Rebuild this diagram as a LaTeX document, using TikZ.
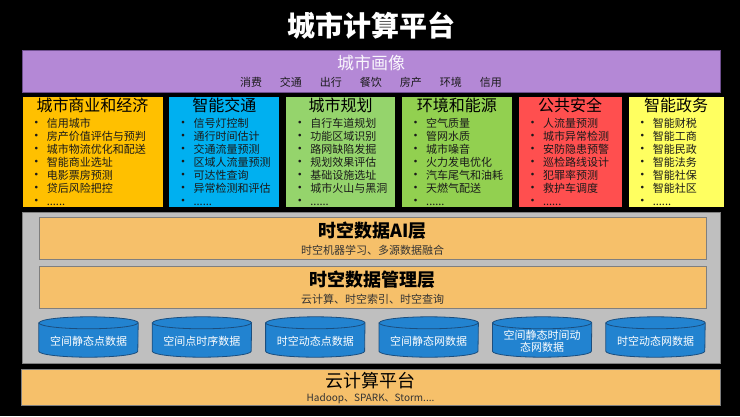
\documentclass[tikz,border=0pt]{standalone}
\usepackage{fontspec}
\setmainfont{Noto Sans CJK SC}
\usetikzlibrary{positioning,calc}
\definecolor{Portrait}{HTML}{B488D6}
\definecolor{PortraitLine}{HTML}{6E4E8E}
\definecolor{Business}{HTML}{FFC000}
\definecolor{Traffic}{HTML}{00B0F0}
\definecolor{Planning}{HTML}{95D46C}
\definecolor{Energy}{HTML}{92D050}
\definecolor{Safety}{HTML}{FF4F4F}
\definecolor{Gov}{HTML}{FFFF60}
\definecolor{Panel}{HTML}{BFBFBF}
\definecolor{PanelLine}{HTML}{808080}
\definecolor{Layer}{HTML}{F6C06A}
\definecolor{LayerLine}{HTML}{7F7F7F}
\definecolor{Store}{HTML}{2283D0}
\definecolor{StoreLine}{HTML}{1B4E7E}
\definecolor{Ink}{HTML}{1A1A1A}
\definecolor{SubInk}{HTML}{333333}
\newcommand{\appitem}[1]{\makebox[17pt][l]{\fontsize{13}{13}\selectfont •}#1}
\newcommand{\drawstore}[1]{%
  \filldraw[storecyl] ([yshift=-6pt]#1.north west) -- ([yshift=6pt]#1.south west)
    arc[start angle=180,end angle=360,x radius=49.5pt,y radius=6pt]
    -- ([yshift=-6pt]#1.north east)
    arc[start angle=0,end angle=180,x radius=49.5pt,y radius=6pt] -- cycle;
  \draw[storecyl] ([yshift=-6pt]#1.north west)
    arc[start angle=180,end angle=360,x radius=49.5pt,y radius=6pt];}

\begin{document}
\begin{tikzpicture}[x=1pt,y=-1pt,
  node distance=5pt,
  appbox/.style={draw=black,line width=0.8pt,minimum height=111pt,inner sep=0pt},
  apptitle/.style={font=\fontsize{16}{18}\selectfont,inner sep=0pt},
  applist/.style={anchor=north west,align=left,inner sep=0pt,font=\fontsize{11}{13}\selectfont,text=Ink},
  layer/.style={draw=LayerLine,fill=Layer,minimum width=667pt,minimum height=42pt,inner sep=0pt},
  headline/.style={font=\bfseries\fontsize{18}{20}\selectfont,inner sep=0pt},
  subline/.style={font=\fontsize{11}{13}\selectfont,text=SubInk,inner sep=0pt},
  store/.style={minimum width=99pt,minimum height=40pt,inner sep=0pt},
  storecyl/.style={draw=StoreLine,fill=Store,line width=0.8pt},
  storelabel/.style={text=white,align=center,font=\fontsize{11}{12}\selectfont,inner sep=0pt}
]
\fill[black] (0,0) rectangle (740,416);

% title
\node[font=\bfseries\fontsize{28}{30}\selectfont,text=white,inner sep=0pt] (title) at (371,26) {城市计算平台};

% city portrait
\node[draw=PortraitLine,fill=Portrait,minimum width=698pt,minimum height=42pt,inner sep=0pt] (portrait) at (371,71) {};
\node[font=\fontsize{17}{19}\selectfont,text=white!92!Portrait,inner sep=0pt] (portraittitle) at (371,63) {城市画像};
\node[subline,text=Ink] (portraitsub) at (371,82) {消费\hspace{18pt}交通\hspace{18pt}出行\hspace{18pt}餐饮\hspace{18pt}房产\hspace{18pt}环境\hspace{18pt}信用};

% application boxes
\node[appbox,fill=Business,minimum width=141pt] (biz) at (92.5,151.5) {};
\node[appbox,fill=Traffic,minimum width=111pt,right=of biz] (traffic) {};
\node[appbox,fill=Planning,minimum width=110pt,right=of traffic] (plan) {};
\node[appbox,fill=Energy,minimum width=111pt,right=of plan] (energy) {};
\node[appbox,fill=Safety,minimum width=104pt,right=of energy] (safety) {};
\node[appbox,fill=Gov,minimum width=96pt,right=of safety] (gov) {};

\node[apptitle] (biztitle) at ([yshift=-9.5pt]biz.north) {城市商业和经济};
\node[apptitle] (traffictitle) at ([yshift=-9.5pt]traffic.north) {智能交通};
\node[apptitle] (plantitle) at ([yshift=-9.5pt]plan.north) {城市规划};
\node[apptitle] (energytitle) at ([yshift=-9.5pt]energy.north) {环境和能源};
\node[apptitle] (safetytitle) at ([yshift=-9.5pt]safety.north) {公共安全};
\node[apptitle] (govtitle) at ([yshift=-9.5pt]gov.north) {智能政务};

\node[applist] (bizlist) at ([xshift=8pt,yshift=-22.5pt]biz.north west)
  {\appitem{信用城市}\\\appitem{房产价值评估与预判}\\\appitem{城市物流优化和配送}\\\appitem{智能商业选址}\\\appitem{电影票房预测}\\\appitem{贷后风险把控}\\\appitem{......}};
\node[applist] (trafficlist) at ([xshift=8pt,yshift=-22.5pt]traffic.north west)
  {\appitem{信号灯控制}\\\appitem{通行时间估计}\\\appitem{交通流量预测}\\\appitem{区域人流量预测}\\\appitem{可达性查询}\\\appitem{异常检测和评估}\\\appitem{......}};
\node[applist] (planlist) at ([xshift=8pt,yshift=-22.5pt]plan.north west)
  {\appitem{自行车道规划}\\\appitem{功能区域识别}\\\appitem{路网缺陷发掘}\\\appitem{规划效果评估}\\\appitem{基础设施选址}\\\appitem{城市火山与黑洞}\\\appitem{......}};
\node[applist] (energylist) at ([xshift=8pt,yshift=-22.5pt]energy.north west)
  {\appitem{空气质量}\\\appitem{管网水质}\\\appitem{城市噪音}\\\appitem{火力发电优化}\\\appitem{汽车尾气和油耗}\\\appitem{天燃气配送}\\\appitem{......}};
\node[applist] (safetylist) at ([xshift=8pt,yshift=-22.5pt]safety.north west)
  {\appitem{人流量预测}\\\appitem{城市异常检测}\\\appitem{安防隐患预警}\\\appitem{巡检路线设计}\\\appitem{犯罪率预测}\\\appitem{救护车调度}\\\appitem{......}};
\node[applist] (govlist) at ([xshift=8pt,yshift=-22.5pt]gov.north west)
  {\appitem{智能财税}\\\appitem{智能工商}\\\appitem{智能民政}\\\appitem{智能法务}\\\appitem{智能社保}\\\appitem{智能社区}\\\appitem{......}};

% data core
\node[draw=PanelLine,fill=Panel,minimum width=698pt,minimum height=151pt,inner sep=0pt] (core) at (371,287.5) {};
\node[layer] (ai) at (372.5,238) {};
\node[headline] (aititle) at (372.5,231) {时空数据AI层};
\node[subline] (aisub) at (372.5,250) {时空机器学习、多源数据融合};
\node[layer] (manage) at (372.5,287) {};
\node[headline] (managetitle) at (372.5,280) {时空数据管理层};
\node[subline] (managesub) at (372.5,299) {云计算、时空索引、时空查询};

% data stores
\node[store] (s1) at (88.5,337) {};
\node[store,right=14pt of s1] (s2) {};
\node[store,right=14pt of s2] (s3) {};
\node[store,right=14pt of s3] (s4) {};
\node[store,right=14pt of s4] (s5) {};
\node[store,right=14pt of s5] (s6) {};
\drawstore{s1}
\drawstore{s2}
\drawstore{s3}
\drawstore{s4}
\drawstore{s5}
\drawstore{s6}
\node[storelabel] (s1label) at ([yshift=-4pt]s1.center) {空间静态点数据};
\node[storelabel] (s2label) at ([yshift=-4pt]s2.center) {空间点时序数据};
\node[storelabel] (s3label) at ([yshift=-4pt]s3.center) {时空动态点数据};
\node[storelabel] (s4label) at ([yshift=-4pt]s4.center) {空间静态网数据};
\node[storelabel] (s5label) at ([yshift=-4pt]s5.center) {空间静态时间动\\态网数据};
\node[storelabel] (s6label) at ([yshift=-4pt]s6.center) {时空动态网数据};

% cloud
\node[draw=LayerLine,fill=Layer,minimum width=699pt,minimum height=36pt,inner sep=0pt] (cloud) at (370.5,387) {};
\node[font=\fontsize{18}{20}\selectfont,inner sep=0pt] (cloudtitle) at (370.5,381) {云计算平台};
\node[font=\fontsize{10}{12}\selectfont,text=SubInk,inner sep=0pt] (cloudsub) at (370.5,399) {Hadoop、SPARK、Storm....};
\end{tikzpicture}
\end{document}
